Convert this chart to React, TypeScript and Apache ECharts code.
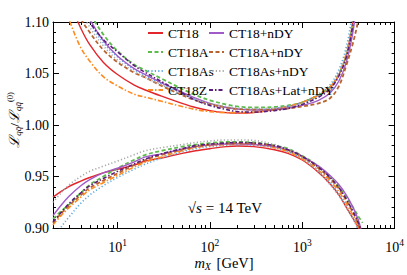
import React, { useEffect, useRef } from "react";
import * as echarts from "echarts";

// Invariant mass grid (GeV)
const masses = [2, 2.5, 3, 4, 5, 7, 10, 15, 20, 30, 50, 70, 100, 150, 200, 300, 500, 700, 1000, 1500, 2000, 2500, 3000, 3500, 4000, 4500];

// Upper edge of the luminosity-ratio bands
const ct18Up = [1.17, 1.14, 1.12, 1.094, 1.078, 1.061, 1.049, 1.039, 1.034, 1.028, 1.021, 1.017, 1.014, 1.012, 1.0115, 1.012, 1.015, 1.018, 1.022, 1.029, 1.036, 1.049, 1.068, 1.098, 1.14, 1.19];
const ct18nDYUp = [1.23, 1.19, 1.16, 1.125, 1.103, 1.082, 1.067, 1.055, 1.049, 1.041, 1.032, 1.026, 1.021, 1.017, 1.0155, 1.0145, 1.015, 1.0165, 1.019, 1.024, 1.031, 1.043, 1.061, 1.088, 1.125, 1.17];
const ct18AUp = [1.24, 1.2, 1.17, 1.135, 1.11, 1.088, 1.072, 1.059, 1.053, 1.045, 1.035, 1.029, 1.024, 1.02, 1.018, 1.017, 1.0175, 1.019, 1.022, 1.029, 1.037, 1.05, 1.068, 1.098, 1.14, 1.19];
const ct18AnDYUp = [1.2, 1.17, 1.145, 1.104, 1.09, 1.073, 1.061, 1.051, 1.046, 1.038, 1.029, 1.024, 1.02, 1.017, 1.0155, 1.015, 1.015, 1.016, 1.018, 1.021, 1.026, 1.038, 1.058, 1.078, 1.1, 1.13];
const ct18AsUp = [1.22, 1.185, 1.155, 1.12, 1.1, 1.08, 1.066, 1.054, 1.048, 1.04, 1.031, 1.025, 1.021, 1.017, 1.0155, 1.015, 1.016, 1.018, 1.022, 1.03, 1.039, 1.054, 1.076, 1.11, 1.16, 1.21];
const ct18AsnDYUp = [1.21, 1.175, 1.148, 1.112, 1.095, 1.077, 1.063, 1.052, 1.046, 1.039, 1.03, 1.025, 1.021, 1.018, 1.0165, 1.016, 1.0165, 1.018, 1.021, 1.028, 1.036, 1.05, 1.07, 1.1, 1.14, 1.19];
const ct18ZUp = [1.16, 1.125, 1.102, 1.075, 1.062, 1.047, 1.038, 1.03, 1.027, 1.023, 1.018, 1.015, 1.013, 1.012, 1.012, 1.0125, 1.015, 1.018, 1.022, 1.029, 1.037, 1.05, 1.07, 1.1, 1.14, 1.19];
const ct18AsLatUp = [1.22, 1.18, 1.15, 1.118, 1.1, 1.083, 1.071, 1.058, 1.051, 1.042, 1.031, 1.024, 1.019, 1.015, 1.013, 1.0125, 1.014, 1.016, 1.02, 1.027, 1.035, 1.048, 1.066, 1.095, 1.135, 1.18];

// Lower edge of the bands
const ct18Lo = [0.93, 0.936, 0.9405, 0.9455, 0.949, 0.9535, 0.957, 0.961, 0.965, 0.968, 0.9725, 0.975, 0.977, 0.979, 0.9796, 0.979, 0.976, 0.9725, 0.966, 0.954, 0.943, 0.932, 0.92, 0.91, 0.901, 0.885];
const ct18nDYLo = [0.912, 0.923, 0.931, 0.941, 0.947, 0.9535, 0.958, 0.964, 0.969, 0.972, 0.9765, 0.979, 0.9805, 0.9815, 0.9817, 0.981, 0.979, 0.976, 0.9695, 0.96, 0.951, 0.942, 0.932, 0.921, 0.909, 0.893];
const ct18ALo = [0.909, 0.917, 0.923, 0.934, 0.942, 0.95, 0.958, 0.966, 0.971, 0.975, 0.979, 0.981, 0.9825, 0.9835, 0.9835, 0.983, 0.98, 0.977, 0.97, 0.96, 0.949, 0.94, 0.93, 0.921, 0.912, 0.905];
const ct18AnDYLo = [0.905, 0.915, 0.922, 0.932, 0.939, 0.946, 0.953, 0.961, 0.966, 0.971, 0.976, 0.979, 0.981, 0.982, 0.9822, 0.982, 0.9795, 0.9755, 0.969, 0.958, 0.948, 0.938, 0.927, 0.916, 0.905, 0.892];
const ct18AsLo = [0.89, 0.902, 0.911, 0.924, 0.932, 0.941, 0.949, 0.957, 0.962, 0.968, 0.974, 0.977, 0.979, 0.9805, 0.981, 0.9805, 0.978, 0.974, 0.967, 0.955, 0.944, 0.933, 0.921, 0.91, 0.899, 0.885];
const ct18AsnDYLo = [0.925, 0.935, 0.942, 0.95, 0.955, 0.96, 0.965, 0.971, 0.975, 0.978, 0.981, 0.983, 0.9845, 0.9855, 0.9855, 0.985, 0.981, 0.976, 0.968, 0.955, 0.942, 0.931, 0.92, 0.91, 0.899, 0.885];
const ct18ZLo = [0.903, 0.913, 0.92, 0.93, 0.937, 0.944, 0.951, 0.959, 0.964, 0.969, 0.975, 0.978, 0.98, 0.981, 0.9815, 0.981, 0.978, 0.974, 0.967, 0.956, 0.946, 0.935, 0.924, 0.913, 0.902, 0.888];
const ct18AsLatLo = [0.906, 0.916, 0.924, 0.934, 0.941, 0.948, 0.955, 0.962, 0.967, 0.972, 0.977, 0.98, 0.9815, 0.9825, 0.983, 0.9825, 0.98, 0.976, 0.9695, 0.959, 0.949, 0.939, 0.928, 0.917, 0.906, 0.894];

const xMajorTicks = [10, 100, 1000, 10000];
const xMinorTicks = [3, 4, 5, 6, 7, 8, 9, 20, 30, 40, 50, 60, 70, 80, 90, 200, 300, 400, 500, 600, 700, 800, 900, 2000, 3000, 4000, 5000, 6000, 7000, 8000, 9000];

const legendLeft = ["CT18", "CT18A", "CT18As", "CT18Z"];
const legendRight = ["CT18+nDY", "CT18A+nDY", "CT18As+nDY", "CT18As+Lat+nDY"];

const sets = [
  { name: "CT18", up: ct18Up, lo: ct18Lo, color: "#e3262b", type: "solid" as any, w: 1.4 },
  { name: "CT18A", up: ct18AUp, lo: ct18ALo, color: "#5dbb4c", type: [4, 2.5] as any, w: 1.8 },
  { name: "CT18As", up: ct18AsUp, lo: ct18AsLo, color: "#5aa9e0", type: [1.2, 2.2] as any, w: 1.6 },
  { name: "CT18Z", up: ct18ZUp, lo: ct18ZLo, color: "#ff8a1e", type: [5, 2, 1.5, 2] as any, w: 1.6 },
  { name: "CT18+nDY", up: ct18nDYUp, lo: ct18nDYLo, color: "#a05bc8", type: "solid" as any, w: 1.4 },
  { name: "CT18A+nDY", up: ct18AnDYUp, lo: ct18AnDYLo, color: "#b8632f", type: [4, 2.5] as any, w: 1.8 },
  { name: "CT18As+nDY", up: ct18AsnDYUp, lo: ct18AsnDYLo, color: "#a8a8a8", type: [1.2, 2.2] as any, w: 1.6 },
  { name: "CT18As+Lat+nDY", up: ct18AsLatUp, lo: ct18AsLatLo, color: "#5a1e7a", type: [4, 2, 1.5, 2] as any, w: 1.6 },
];

const FONT = "Liberation Serif";

export default function App() {
  const ref = useRef<HTMLDivElement>(null);
  useEffect(() => {
    if (!ref.current) return;
    const chart = echarts.init(ref.current, null, { renderer: "svg" });
    const series: any[] = [];
    sets.forEach((s) => {
      [s.up, s.lo].forEach((vals) => {
        series.push({
          name: s.name,
          type: "line",
          xAxisIndex: 0,
          yAxisIndex: 0,
          data: masses.map((m, i) => [m, vals[i]]),
          showSymbol: false,
          symbol: "none",
          smooth: 0.35,
          clip: true,
          lineStyle: { color: s.color, width: s.w, type: s.type },
          itemStyle: { color: s.color },
          z: 2,
        });
      });
    });

    const axisLine = { show: true, lineStyle: { color: "#000", width: 1 } };
    const legendCommon = {
      orient: "vertical",
      top: 26,
      itemWidth: 15,
      itemHeight: 10,
      itemGap: 5,
      padding: 0,
      itemStyle: { opacity: 0, borderWidth: 0 },
      textStyle: { fontFamily: FONT, fontSize: 13.5, color: "#000", lineHeight: 14 },
    };

    chart.setOption({
      animation: false,
      backgroundColor: "#fff",
      grid: { left: 53, right: 10, top: 22, bottom: 47, containLabel: false },
      xAxis: [
        {
          type: "log",
          position: "bottom",
          min: 2,
          max: 10000,
          axisLine,
          splitLine: { show: false },
          axisTick: { show: true, inside: true, length: 6, customValues: xMajorTicks, lineStyle: { color: "#000" } },
          axisLabel: {
            show: true,
            customValues: xMajorTicks,
            margin: 10,
            formatter: (v: number) => "10{sup|" + Math.round(Math.log10(v)) + "}",
            rich: {
              sup: { fontFamily: FONT, fontSize: 9.5, color: "#000", verticalAlign: "top", padding: [0, 0, 8, 0] },
            },
            fontFamily: FONT,
            fontSize: 14,
            color: "#000",
          },
          minorTick: { show: false },
        },
        {
          type: "log",
          position: "bottom",
          min: 2,
          max: 10000,
          axisLine: { show: false },
          splitLine: { show: false },
          axisTick: { show: true, inside: true, length: 3, customValues: xMinorTicks, lineStyle: { color: "#000" } },
          axisLabel: { show: false },
        },
        {
          type: "log",
          position: "top",
          min: 2,
          max: 10000,
          axisLine,
          splitLine: { show: false },
          axisTick: { show: true, inside: true, length: 6, customValues: xMajorTicks, lineStyle: { color: "#000" } },
          axisLabel: { show: false },
        },
        {
          type: "log",
          position: "top",
          min: 2,
          max: 10000,
          axisLine: { show: false },
          splitLine: { show: false },
          axisTick: { show: true, inside: true, length: 3, customValues: xMinorTicks, lineStyle: { color: "#000" } },
          axisLabel: { show: false },
        },
      ],
      yAxis: [
        {
          type: "value",
          position: "left",
          min: 0.9,
          max: 1.1,
          interval: 0.05,
          axisLine,
          splitLine: { show: false },
          axisTick: { show: true, inside: true, length: 6, lineStyle: { color: "#000" } },
          minorTick: { show: true, splitNumber: 5, length: 3, lineStyle: { color: "#000" } },
          axisLabel: {
            formatter: (v: number) => v.toFixed(2),
            fontFamily: FONT,
            fontSize: 14,
            color: "#000",
            margin: 4,
          },
        },
        {
          type: "value",
          position: "right",
          min: 0.9,
          max: 1.1,
          interval: 0.05,
          axisLine,
          splitLine: { show: false },
          axisTick: { show: true, inside: true, length: 6, lineStyle: { color: "#000" } },
          minorTick: { show: true, splitNumber: 5, length: 3, lineStyle: { color: "#000" } },
          axisLabel: { show: false },
        },
      ],
      legend: [
        { ...legendCommon, left: 147, data: legendLeft },
        { ...legendCommon, left: 208, data: legendRight },
      ],
      graphic: [
        {
          type: "text",
          x: 224,
          y: 263,
          style: {
            text: "{i|m}{sub|X} [GeV]",
            align: "center",
            verticalAlign: "middle",
            fontFamily: FONT,
            fontSize: 14.5,
            fill: "#000",
            rich: {
              i: { fontFamily: FONT, fontSize: 14.5, fontStyle: "italic" },
              sub: { fontFamily: FONT, fontSize: 10, fontStyle: "italic", padding: [6, 2, 0, 0] },
            },
          },
        },
        {
          type: "text",
          x: 225,
          y: 208,
          style: {
            text: "√{i|s} = 14 TeV",
            align: "center",
            verticalAlign: "middle",
            fontFamily: FONT,
            fontSize: 15,
            fill: "#000",
            rich: {
              i: { fontFamily: FONT, fontSize: 15, fontStyle: "italic" },
            },
          },
        },
        {
          type: "text",
          x: 14,
          y: 120,
          rotation: Math.PI / 2,
          style: {
            text: "{i|ℒ}{sub|qq̄}/{i|ℒ}{sub|qq̄}{sup|(0)}",
            align: "center",
            verticalAlign: "middle",
            fontFamily: FONT,
            fontSize: 13.5,
            fill: "#000",
            rich: {
              i: { fontFamily: FONT, fontSize: 14, fontStyle: "italic" },
              sub: { fontFamily: FONT, fontSize: 9, fontStyle: "italic", padding: [7, 0, 0, 0] },
              sup: { fontFamily: FONT, fontSize: 8.5, padding: [0, 0, 8, 0] },
            },
          },
        },
      ],
      series,
    });
    return () => chart.dispose();
  }, []);
  return (
    <div
      ref={ref}
      style={{ position: "fixed", left: 0, top: 0, width: 407, height: 275, background: "#fff" }}
    />
  );
}
